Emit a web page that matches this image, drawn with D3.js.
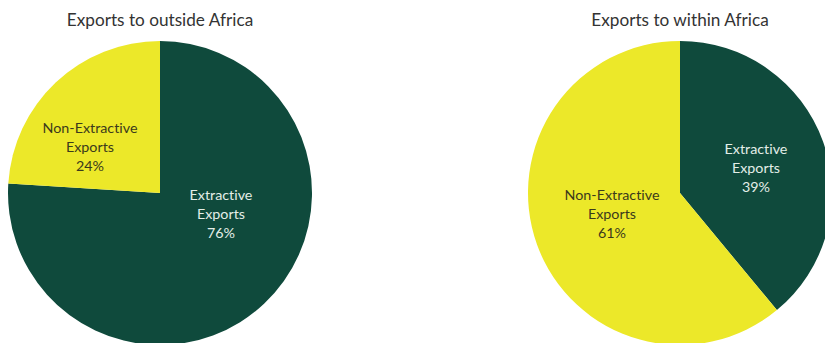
<!DOCTYPE html>
<html>
<head>
<meta charset="utf-8">
<script src="https://cdn.jsdelivr.net/npm/d3@7"></script>
<style>
  html, body { margin: 0; padding: 0; background: #ffffff; }
  svg { display: block; }
  text { font-family: Lato, "Open Sans", sans-serif; font-variant-ligatures: none; }
</style>
</head>
<body>
<svg id="chart" width="825" height="343"></svg>
<script>
// Export composition shares (%)
const categories = ["Extractive Exports", "Non-Extractive Exports"];
const panelTitles = ["Exports to outside Africa", "Exports to within Africa"];
const outsideAfrica = [76, 24];
const withinAfrica = [39, 61];
const seriesValues = [outsideAfrica, withinAfrica];

// Layout and style
const W = 825, H = 343;
const radius = 152;
const centers = [{ x: 160, y: 193 }, { x: 680, y: 193 }];
const fills = { "Extractive Exports": "#0f4a3c", "Non-Extractive Exports": "#ece829" };
const textFills = { "Extractive Exports": "#e3eee8", "Non-Extractive Exports": "#3b3a1c" };
// label anchor offsets from each pie centre, per panel, per category
const labelOffsets = [
  { "Extractive Exports": [61, 21], "Non-Extractive Exports": [-70, -46] },
  { "Extractive Exports": [76, -25], "Non-Extractive Exports": [-68, 21] }
];
const lineStep = 19;

const svg = d3.select("#chart");

const pie = d3.pie().sort(null).value(d => d.value).startAngle(0).endAngle(2 * Math.PI);
const arc = d3.arc().innerRadius(0).outerRadius(radius);

seriesValues.forEach((vals, i) => {
  const data = categories.map((c, k) => ({ category: c, value: vals[k] }));
  const g = svg.append("g").attr("transform", `translate(${centers[i].x},${centers[i].y})`);

  g.selectAll("path.slice")
    .data(pie(data))
    .join("path")
    .attr("class", "slice")
    .attr("d", arc)
    .attr("fill", d => fills[d.data.category]);

  // slice labels: two-word category split over two lines plus share
  pie(data).forEach(d => {
    const [ox, oy] = labelOffsets[i][d.data.category];
    const words = d.data.category.split(" ");
    const lines = [words[0], words[1], d.data.value + "%"];
    const t = g.append("text")
      .attr("text-anchor", "middle")
      .attr("font-size", 14.3)
      .attr("fill", textFills[d.data.category]);
    lines.forEach((ln, j) => {
      t.append("tspan")
        .attr("x", ox)
        .attr("y", oy + (j - 1) * lineStep)
        .attr("dy", "0.35em")
        .text(ln);
    });
  });

  svg.append("text")
    .attr("x", centers[i].x)
    .attr("y", 20)
    .attr("dy", "0.35em")
    .attr("text-anchor", "middle")
    .attr("font-size", 17.2)
    .attr("fill", "#333333")
    .text(panelTitles[i]);
});
</script>
</body>
</html>
